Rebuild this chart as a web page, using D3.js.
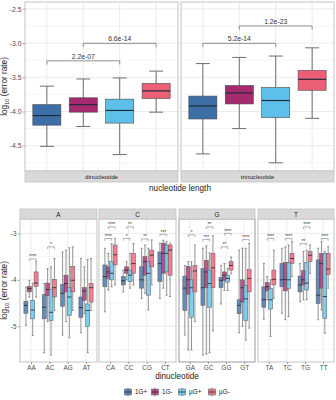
<!DOCTYPE html>
<html>
<head>
<meta charset="utf-8">
<script src="https://cdn.jsdelivr.net/npm/d3@7"></script>
<style>
  body { margin: 0; background: #fff; }
  text { font-family: "Liberation Sans", Arial, sans-serif; }
</style>
</head>
<body>
<div id="chart"></div>
<script>
// ---------- data ----------
const groups = ["1G+", "1G-", "µG+", "µG-"];
const groupColors = ["#3d6fa6", "#a52a6e", "#5cc0ea", "#ec5f77"];

const lengthFacets = ["dinucleotide", "trinucleotide"];
// each box: [lower whisker, Q1, median, Q3, upper whisker]
const dinucBoxes = [
  [-4.51, -4.20, -4.06, -3.90, -3.63],
  [-4.22, -4.01, -3.90, -3.80, -3.525],
  [-4.63, -4.17, -3.985, -3.82, -3.51],
  [-4.01, -3.81, -3.70, -3.59, -3.41]
];
const trinucBoxes = [
  [-4.62, -4.11, -3.92, -3.775, -3.30],
  [-4.25, -3.89, -3.73, -3.62, -3.21],
  [-4.75, -4.09, -3.84, -3.65, -3.19],
  [-4.10, -3.69, -3.53, -3.40, -3.07]
];
const topYTicks = [-2.5, -3.0, -3.5, -4.0, -4.5];
const topBrackets = [
  {facet: "dinucleotide", from: "1G+", to: "µG+", y: -3.26, label: "2.2e-07"},
  {facet: "dinucleotide", from: "1G-", to: "µG-", y: -3.005, label: "6.6e-14"},
  {facet: "trinucleotide", from: "1G+", to: "µG+", y: -3.005, label: "5.2e-14"},
  {facet: "trinucleotide", from: "1G-", to: "µG-", y: -2.75, label: "1.2e-23"}
];

const firstBases = ["A", "C", "G", "T"];
const dinucleotides = ["AA","AC","AG","AT","CA","CC","CG","CT","GA","GC","GG","GT","TA","TC","TG","TT"];
const boxes1Gplus = [
  [-4.98,-4.72,-4.55,-4.46,-4.16], [-5.57,-4.84,-4.59,-4.32,-4.08], [-5.19,-4.57,-4.29,-4.10,-3.40], [-5.14,-4.81,-4.60,-4.37,-3.54],
  [-4.69,-4.15,-3.93,-3.68,-3.32], [-4.26,-4.11,-4.02,-3.93,-3.79], [-4.40,-4.18,-4.00,-3.72,-3.32], [-4.40,-4.04,-3.65,-3.40,-3.21],
  [-5.19,-4.66,-4.18,-3.92,-3.69], [-5.62,-4.55,-4.17,-3.76,-3.32], [-4.52,-4.17,-4.01,-3.95,-3.69], [-5.14,-4.73,-4.55,-4.43,-3.36],
  [-4.85,-4.59,-4.43,-4.15,-3.65], [-4.72,-4.15,-4.00,-3.65,-3.32], [-4.47,-4.26,-4.11,-3.92,-3.65], [-4.86,-4.51,-4.33,-3.57,-3.32]
];
const boxes1Gminus = [
  [-4.37,-4.26,-4.19,-4.14,-4.01], [-4.90,-4.34,-4.21,-4.07,-3.76], [-4.90,-4.26,-4.08,-3.90,-3.36], [-4.73,-4.44,-4.24,-4.17,-3.72],
  [-4.22,-3.97,-3.83,-3.72,-3.43], [-4.00,-3.86,-3.79,-3.72,-3.61], [-4.29,-3.90,-3.61,-3.50,-3.25], [-4.18,-3.86,-3.43,-3.21,-3.15],
  [-5.51,-4.31,-4.00,-3.71,-3.61], [-5.60,-4.17,-3.83,-3.58,-3.27], [-4.23,-4.01,-3.90,-3.83,-3.65], [-5.00,-4.48,-4.17,-4.00,-3.32],
  [-4.43,-4.24,-4.15,-4.06,-3.93], [-4.86,-4.24,-3.99,-3.63,-3.29], [-4.43,-4.11,-4.00,-3.80,-3.39], [-4.65,-4.18,-3.65,-3.43,-3.18]
];
const boxesUGplus = [
  [-5.20,-4.84,-4.65,-4.44,-4.07], [-5.62,-4.88,-4.70,-4.21,-3.72], [-5.25,-4.77,-4.37,-4.17,-3.31], [-5.57,-5.00,-4.66,-4.52,-3.56],
  [-4.15,-4.00,-3.86,-3.61,-3.22], [-4.18,-4.04,-3.90,-3.79,-3.43], [-4.65,-4.33,-3.86,-3.61,-3.32], [-4.33,-3.83,-3.43,-3.25,-3.18],
  [-5.51,-4.81,-4.17,-4.00,-3.61], [-5.57,-4.59,-4.08,-3.79,-3.42], [-4.23,-4.05,-3.97,-3.90,-3.76], [-5.30,-4.88,-4.41,-4.12,-3.32],
  [-5.22,-4.63,-4.43,-4.18,-4.00], [-4.79,-4.19,-4.00,-3.63,-3.25], [-4.43,-4.22,-4.07,-3.63,-3.36], [-5.15,-4.83,-4.36,-3.43,-3.39]
];
const boxesUGminus = [
  [-4.37,-4.14,-4.07,-3.83,-3.61], [-4.66,-4.37,-4.17,-3.99,-3.54], [-4.66,-4.26,-4.01,-3.71,-3.29], [-4.66,-4.48,-4.17,-4.08,-3.54],
  [-4.11,-3.68,-3.46,-3.25,-3.11], [-4.11,-3.86,-3.65,-3.43,-3.22], [-4.11,-3.72,-3.47,-3.36,-3.14], [-4.36,-3.90,-3.36,-3.25,-3.21],
  [-4.90,-4.26,-3.81,-3.69,-3.25], [-5.10,-4.17,-3.74,-3.43,-3.05], [-3.87,-3.79,-3.69,-3.61,-3.51], [-5.04,-4.26,-3.97,-3.78,-3.22],
  [-4.40,-4.11,-3.99,-3.79,-3.36], [-3.93,-3.65,-3.54,-3.43,-3.18], [-3.86,-3.61,-3.47,-3.39,-3.25], [-4.18,-3.89,-3.77,-3.43,-3.29]
];
const bottomYTicks = [-3, -4, -5];
const bottomBrackets = [
  ["AA","1G-","µG-",-3.55,"****"], ["AC","1G-","µG-",-3.29,"*"],
  ["CA","1G+","µG+",-3.11,"****"], ["CA","1G-","µG-",-2.86,"****"],
  ["CC","1G+","µG+",-3.11,"*"], ["CC","1G-","µG-",-2.86,"**"],
  ["CG","1G+","µG+",-3.12,"**"], ["CT","1G+","µG+",-3.02,"***"],
  ["GA","1G-","µG-",-3.03,"*"], ["GC","1G+","µG+",-3.13,"***"], ["GC","1G-","µG-",-2.86,"**"],
  ["GG","1G+","µG+",-3.29,"**"], ["GG","1G-","µG-",-3.00,"****"], ["GT","1G-","µG-",-3.13,"****"],
  ["TA","1G-","µG-",-3.11,"****"], ["TC","1G-","µG-",-3.11,"****"],
  ["TG","1G+","µG+",-3.22,"**"], ["TG","1G-","µG-",-2.86,"****"], ["TT","1G-","µG-",-3.11,"****"]
];

// ---------- setup ----------
const width = 336, height = 400;
const svg = d3.select("#chart").append("svg")
  .attr("width", width).attr("height", height);

const gridColor = "#ebebeb";
const borderColor = "#c4c4c4";
const stripFill = "#d9d9d9";
const tickColor = "#4d4d4d";

function drawBox(g, cx, w, s, color, opts) {
  const y = opts.y;
  const capW = w * opts.cap;
  const wh = g.append("g").attr("stroke", opts.whisker).attr("stroke-width", opts.ww);
  wh.append("line").attr("x1", cx).attr("x2", cx).attr("y1", y(s[0])).attr("y2", y(s[1]));
  wh.append("line").attr("x1", cx).attr("x2", cx).attr("y1", y(s[3])).attr("y2", y(s[4]));
  [s[0], s[4]].forEach(v => wh.append("line")
    .attr("x1", cx - capW/2).attr("x2", cx + capW/2).attr("y1", y(v)).attr("y2", y(v)));
  g.append("rect")
    .attr("x", cx - w/2).attr("width", w)
    .attr("y", y(s[3])).attr("height", y(s[1]) - y(s[3]))
    .attr("fill", color).attr("fill-opacity", opts.alpha)
    .attr("stroke", opts.stroke).attr("stroke-width", opts.sw);
  g.append("line")
    .attr("x1", cx - w/2).attr("x2", cx + w/2)
    .attr("y1", y(s[2])).attr("y2", y(s[2]))
    .attr("stroke", opts.median).attr("stroke-width", opts.mw);
}

function yTitle(x, y, size) {
  const t = svg.append("text")
    .attr("transform", `translate(${x},${y}) rotate(-90)`)
    .attr("text-anchor", "middle").attr("font-size", size).attr("fill", "#1a1a1a");
  t.append("tspan").text("log");
  t.append("tspan").text("10").attr("font-size", size * 0.7).attr("dy", 2);
  t.append("tspan").text(" (error rate)").attr("dy", -2);
}

// ---------- top chart ----------
const topPanels = [[25, 178], [181, 334]];
const topTop = 2, topBottom = 171;
const yTop = d3.scaleLinear().domain([-2.4, -4.87]).range([topTop, topBottom]);
const topMinor = [-2.75, -3.25, -3.75, -4.25, -4.75];

lengthFacets.forEach((facet, fi) => {
  const [x0, x1] = topPanels[fi];
  const x = d3.scalePoint().domain(groups).range([x0, x1]).padding(0.6);
  const step = x.step();
  const g = svg.append("g");

  g.append("rect").attr("x", x0).attr("y", topTop).attr("width", x1 - x0).attr("height", topBottom - topTop)
    .attr("fill", "#fff");
  topMinor.forEach(v => g.append("line").attr("x1", x0).attr("x2", x1)
    .attr("y1", yTop(v)).attr("y2", yTop(v)).attr("stroke", gridColor).attr("stroke-width", 0.5));
  topYTicks.forEach(v => g.append("line").attr("x1", x0).attr("x2", x1)
    .attr("y1", yTop(v)).attr("y2", yTop(v)).attr("stroke", gridColor).attr("stroke-width", 1));
  groups.forEach(gr => g.append("line").attr("x1", x(gr)).attr("x2", x(gr))
    .attr("y1", topTop).attr("y2", topBottom).attr("stroke", gridColor).attr("stroke-width", 1));

  const data = fi === 0 ? dinucBoxes : trinucBoxes;
  groups.forEach((gr, i) => drawBox(g, x(gr), step * 0.77, data[i], groupColors[i], {
    y: yTop, cap: 0.5, whisker: "#6e6e6e", ww: 1, alpha: 1,
    stroke: "#4a4a4a", sw: 0.6, median: "#1f2a3a", mw: 1.2
  }));

  topBrackets.filter(b => b.facet === facet).forEach(b => {
    const xa = x(b.from), xb = x(b.to), yy = yTop(b.y);
    g.append("path")
      .attr("d", `M${xa},${yy + 3.7}V${yy}H${xb}V${yy + 3.7}`)
      .attr("fill", "none").attr("stroke", "#777").attr("stroke-width", 0.8);
    g.append("text").attr("x", (xa + xb) / 2).attr("y", yy - 2)
      .attr("text-anchor", "middle").attr("font-size", 6.8).attr("fill", "#333").text(b.label);
  });

  g.append("rect").attr("x", x0).attr("y", topTop).attr("width", x1 - x0).attr("height", topBottom - topTop)
    .attr("fill", "none").attr("stroke", borderColor).attr("stroke-width", 1);
  g.append("rect").attr("x", x0).attr("y", topBottom).attr("width", x1 - x0).attr("height", 11)
    .attr("fill", stripFill).attr("stroke", borderColor).attr("stroke-width", 0.8);
  g.append("text").attr("x", (x0 + x1) / 2).attr("y", topBottom + 8)
    .attr("text-anchor", "middle").attr("font-size", 6.2).attr("fill", "#1a1a1a").text(facet);
});

const topAxis = svg.append("g").attr("transform", `translate(${topPanels[0][0]},0)`)
  .call(d3.axisLeft(yTop).tickValues(topYTicks).tickFormat(d3.format(".1f")).tickSize(2).tickPadding(1.5));
topAxis.select(".domain").remove();
topAxis.selectAll("line").attr("stroke", "#999");
topAxis.selectAll("text").attr("font-size", 6.8).attr("fill", tickColor).text(d => d3.format(".1f")(d).replace("−", "-"));
yTitle(7, (topTop + topBottom) / 2, 8.2);
svg.append("text").attr("x", 180).attr("y", 191).attr("text-anchor", "middle")
  .attr("font-size", 8.2).attr("fill", "#1a1a1a").text("nucleotide length");

// ---------- bottom chart ----------
const bottomPanels = [[20, 97], [99, 176], [179, 255], [258, 334]];
const botTop = 219, botBottom = 362;
const yBot = d3.scaleLinear().domain([-2.69, -5.77]).range([botTop, botBottom]);
const botMinor = [-3.5, -4.5, -5.5];
const groupBoxes = [boxes1Gplus, boxes1Gminus, boxesUGplus, boxesUGminus];

firstBases.forEach((base, pi) => {
  const [x0, x1] = bottomPanels[pi];
  const cats = dinucleotides.filter(d => d[0] === base);
  const x = d3.scalePoint().domain(cats).range([x0, x1]).padding(0.6);
  const step = x.step();
  const g = svg.append("g");

  g.append("rect").attr("x", x0).attr("y", botTop).attr("width", x1 - x0).attr("height", botBottom - botTop)
    .attr("fill", "#fff");
  botMinor.forEach(v => g.append("line").attr("x1", x0).attr("x2", x1)
    .attr("y1", yBot(v)).attr("y2", yBot(v)).attr("stroke", gridColor).attr("stroke-width", 0.5));
  bottomYTicks.forEach(v => g.append("line").attr("x1", x0).attr("x2", x1)
    .attr("y1", yBot(v)).attr("y2", yBot(v)).attr("stroke", gridColor).attr("stroke-width", 0.9));
  cats.forEach(c => g.append("line").attr("x1", x(c)).attr("x2", x(c))
    .attr("y1", botTop).attr("y2", botBottom).attr("stroke", gridColor).attr("stroke-width", 0.9));

  const dodge = i => (i - 1.5) * step * 0.185;
  cats.forEach(c => {
    const di = dinucleotides.indexOf(c);
    groups.forEach((gr, i) => drawBox(g, x(c) + dodge(i), step * 0.22, groupBoxes[i][di], groupColors[i], {
      y: yBot, cap: 0.5, whisker: "#777", ww: 0.8, alpha: 0.8,
      stroke: "#555", sw: 0.5, median: "#222", mw: 0.8
    }));
  });

  bottomBrackets.filter(b => b[0][0] === base).forEach(b => {
    const xa = x(b[0]) + dodge(groups.indexOf(b[1]));
    const xb = x(b[0]) + dodge(groups.indexOf(b[2]));
    const yy = yBot(b[3]);
    g.append("path")
      .attr("d", `M${xa},${yy + 2.2}V${yy}H${xb}V${yy + 2.2}`)
      .attr("fill", "none").attr("stroke", "#666").attr("stroke-width", 0.5);
    g.append("text").attr("x", (xa + xb) / 2).attr("y", yy - 0.6)
      .attr("text-anchor", "middle").attr("font-size", 4.6).attr("fill", "#333").text(b[4]);
  });

  g.append("rect").attr("x", x0).attr("y", botTop).attr("width", x1 - x0).attr("height", botBottom - botTop)
    .attr("fill", "none").attr("stroke", base === "G" ? "#9a9a9a" : borderColor).attr("stroke-width", 1);
  g.append("rect").attr("x", x0).attr("y", botTop - 10).attr("width", x1 - x0).attr("height", 10)
    .attr("fill", stripFill).attr("stroke", borderColor).attr("stroke-width", 0.8);
  g.append("text").attr("x", (x0 + x1) / 2).attr("y", botTop - 2.5)
    .attr("text-anchor", "middle").attr("font-size", 6.4).attr("fill", "#1a1a1a").text(base);

  const xa = g.append("g").attr("transform", `translate(0,${botBottom})`)
    .call(d3.axisBottom(x).tickSize(2).tickPadding(1.5));
  xa.select(".domain").remove();
  xa.selectAll("line").attr("stroke", "#999");
  xa.selectAll("text").attr("font-size", 6.4).attr("fill", tickColor);
});

const botAxis = svg.append("g").attr("transform", `translate(${bottomPanels[0][0]},0)`)
  .call(d3.axisLeft(yBot).tickValues(bottomYTicks).tickSize(2).tickPadding(1.5));
botAxis.select(".domain").remove();
botAxis.selectAll("line").attr("stroke", "#999");
botAxis.selectAll("text").attr("font-size", 6.4).attr("fill", tickColor).text(d => String(d));
yTitle(7, (botTop + botBottom) / 2, 8.2);
svg.append("text").attr("x", 177).attr("y", 379).attr("text-anchor", "middle")
  .attr("font-size", 8.2).attr("fill", "#1a1a1a").text("dinucleotide");

// ---------- legend ----------
const legendX = [124, 151, 178, 208];
const legendY = 392;
groups.forEach((gr, i) => {
  const lg = svg.append("g").attr("transform", `translate(${legendX[i]},${legendY})`);
  lg.append("line").attr("x1", 4).attr("x2", 4).attr("y1", -4.5).attr("y2", 4.5)
    .attr("stroke", "#777").attr("stroke-width", 0.8);
  lg.append("rect").attr("x", 0.5).attr("y", -3).attr("width", 7).attr("height", 6)
    .attr("fill", groupColors[i]).attr("fill-opacity", 0.8).attr("stroke", "#555").attr("stroke-width", 0.5);
  lg.append("line").attr("x1", 0.5).attr("x2", 7.5).attr("y1", 0).attr("y2", 0)
    .attr("stroke", "#222").attr("stroke-width", 0.8);
  lg.append("text").attr("x", 11).attr("y", 2.3).attr("font-size", 6.4).attr("fill", "#1a1a1a").text(gr);
});
</script>
</body>
</html>
